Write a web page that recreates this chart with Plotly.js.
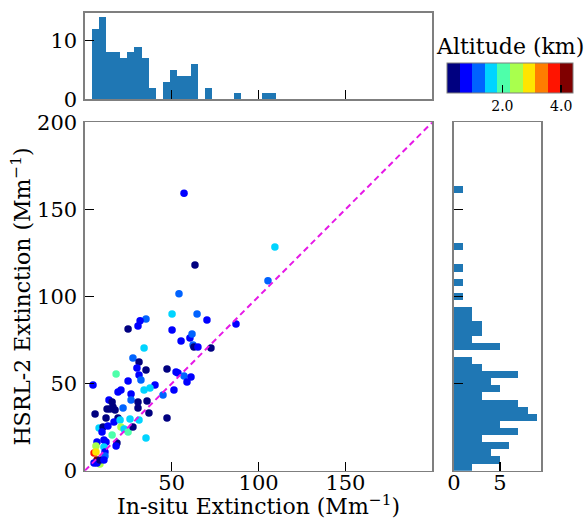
<!DOCTYPE html>
<html><head><meta charset="utf-8">
<script src="https://cdn.plot.ly/plotly-3.0.1.min.js"></script>
<style>html,body{margin:0;padding:0;background:#fff}#chart{width:585px;height:519px}</style>
</head><body><div id="chart"></div>
<script>
// In-situ extinction (Mm^-1)
const insitu = [57.1,109.4,63.4,105.4,54.2,87.0,50.2,64.6,70.3,50.2,55.4,60.5,61.7,62.3,62.8,65.1,72.6,47.3,52.5,53.6,57.1,61.1,58.8,40.4,51.3,45.0,47.3,35.2,31.8,30.6,24.9,34.1,27.7,31.2,30.0,35.2,18.0,31.2,24.9,32.3,4.7,37.5,20.8,34.1,19.1,26.6,13.9,15.7,26.6,30.6,35.8,12.8,14.5,16.2,17.4,22.0,30.6,36.9,5.9,12.2,19.1,16.8,20.3,26.0,31.2,8.2,10.5,13.3,9.9,15.7,20.8,22.6,24.9,27.7,35.2,7.0,11.0,12.2,18.5,18.0,11.0,6.4,11.6,11.6,5.3,6.4,7.0,5.3,8.7,7.0,8.7,11.0];
// HSRL-2 extinction (Mm^-1)
const hsrl = [159.3,128.4,118.1,109.1,101.6,84.2,89.9,89.9,86.5,80.8,74.5,76.2,78.5,72.2,71.0,71.0,70.4,58.4,56.7,56.1,54.4,53.8,50.9,49.2,46.3,43.5,30.3,87.1,86.0,83.1,81.4,70.4,64.7,62.4,59.0,57.8,55.5,54.9,51.5,52.1,49.2,47.5,46.3,46.3,45.2,44.0,40.6,39.4,40.6,39.4,40.0,35.4,35.4,36.6,34.8,36.0,36.0,33.1,32.5,30.3,30.3,27.9,29.1,29.7,29.1,24.5,25.1,25.7,22.2,20.5,25.1,23.9,22.2,25.1,18.8,16.5,17.6,16.5,15.9,14.2,13.6,14.2,10.7,8.4,10.2,10.7,6.1,4.4,3.8,4.4,6.1,6.1];
// Altitude (km)
const altitude = [0.75,1.61,0.32,1.18,1.18,0.75,1.61,1.18,0.75,0.75,0.75,0.75,1.18,1.18,0.32,0.75,0.32,0.32,0.75,0.75,1.18,0.75,0.75,0.75,0.75,1.18,0.32,1.18,0.75,0.75,0.32,1.61,1.18,0.32,0.75,0.32,2.03,0.75,0.75,1.18,0.75,1.61,0.75,1.61,0.75,0.75,0.75,0.32,1.18,0.32,0.32,0.32,0.32,0.32,0.32,1.18,0.32,0.32,0.32,0.32,0.32,0.75,1.61,1.61,1.61,1.61,0.32,0.75,0.75,2.03,2.46,1.61,2.03,0.32,1.61,0.75,0.75,0.75,0.32,0.75,1.61,2.46,0.75,1.18,3.75,2.89,4.18,0.75,2.46,0.75,0.32,0.75];
// Histogram counts (bin width 200/49, starting at 0)
const binWidth = 200/49;
const insituCounts = [0,12,14,8,8,7,8,9,7,2,0,3,5,4,4,6,0,2,0,0,0,1,0,0,0,1,1];
const hsrlCounts = [2,5,4,6,3,7,5,9,8,7,3,5,4,7,3,2,0,5,2,3,3,2,2,0,1,0,1,0,1,0,0,1,0,0,0,0,0,0,0,1];
const oneToOne = [0,200];
const axisTicks = [0,50,100,150,200];
const mainXTickText = ['','50','100','150',''];
const mainYTickText = ['0','50','100','150','200'];

const jet10 = ['#000080','#0000ff','#0063ff','#00d4ff','#4effaa','#a9ff4d','#ffe500','#ff7d00','#ff1400','#800000'];
const cs = [];
jet10.forEach((c,i)=>{cs.push([i/10,c]);cs.push([(i+1)/10,c]);});

const F = 'DejaVu Serif, serif';
const frame = {showline:true, mirror:true, linecolor:'#7f7f7f', linewidth:1.5, showgrid:false, zeroline:false,
  tickcolor:'#000', tickwidth:1.5, ticklen:9, tickfont:{family:F,size:21,color:'#000'}};

const traces = [
 {type:'scatter', mode:'markers', x:insitu, y:hsrl, xaxis:'x', yaxis:'y',
  marker:{size:7.5, color:altitude, colorscale:cs, cmin:0.11, cmax:4.39,
   colorbar:{orientation:'h', x:0.8713, xanchor:'center', y:0.878, yanchor:'top', len:0.2154, lenmode:'fraction',
     thickness:30, xpad:0, ypad:0, outlinecolor:'#7f7f7f', outlinewidth:1,
     tickvals:[2,4], ticktext:['2.0','4.0'], ticks:'inside', ticklen:8, tickcolor:'#000', tickwidth:1.5,
     tickfont:{family:F,size:14,color:'#000'}}},
  showlegend:false},
 {type:'scatter', mode:'lines', x:oneToOne, y:oneToOne, xaxis:'x', yaxis:'y',
  line:{color:'#e619e6', width:2, dash:'6px,4px'}, showlegend:false},
 {type:'bar', x0:binWidth/2, dx:binWidth, y:insituCounts, xaxis:'x2', yaxis:'y2',
  marker:{color:'#1f77b4', line:{width:0}}, showlegend:false},
 {type:'bar', orientation:'h', y0:binWidth/2, dy:binWidth, x:hsrlCounts, xaxis:'x3', yaxis:'y3',
  marker:{color:'#1f77b4', line:{width:0}}, showlegend:false}
];

const mainX=[0.145,0.739], mainY=[0.0931,0.7644];
const layout = {
 width:585, height:519, margin:{l:0,r:0,t:0,b:0}, paper_bgcolor:'#fff', plot_bgcolor:'#fff',
 bargap:0, showlegend:false,
 xaxis:Object.assign({}, frame, {domain:mainX, range:[0,200], anchor:'y', ticks:'inside', tickvals:axisTicks, ticktext:mainXTickText,
   ticklabelstandoff:-7,
   title:{text:'In-situ Extinction (Mm<sup>−1</sup>)', font:{family:F,size:22,color:'#000'}, standoff:0}}),
 yaxis:Object.assign({}, frame, {domain:mainY, range:[0,200], anchor:'x', ticks:'inside', tickvals:axisTicks, ticktext:mainYTickText,
   ticklabelstandoff:2,
   title:{text:'HSRL-2 Extinction (Mm<sup>−1</sup>)', font:{family:F,size:22,color:'#000'}, standoff:0}}),
 yaxis4:Object.assign({}, frame, {domain:mainY, range:[0,200], anchor:'x', overlaying:'y', showline:false, ticks:'outside', ticklen:8,
   tickvals:axisTicks, showticklabels:false}),
 xaxis2:Object.assign({}, frame, {domain:mainX, range:[0,200], anchor:'y2', ticks:'inside', tickvals:axisTicks, showticklabels:false}),
 yaxis2:Object.assign({}, frame, {domain:[0.8087,0.9755], range:[0,14.78], anchor:'x2', ticks:'inside', tickvals:[0,10], ticklabelstandoff:2}),
 yaxis5:Object.assign({}, frame, {domain:[0.8087,0.9755], range:[0,14.78], anchor:'x2', overlaying:'y2', showline:false, ticks:'outside', ticklen:8,
   tickvals:[0,10], showticklabels:false}),
 xaxis3:Object.assign({}, frame, {domain:[0.776,0.925], range:[0,9.46], anchor:'y3', ticks:'inside', tickvals:[0,5], ticklabelstandoff:-7}),
 yaxis3:Object.assign({}, frame, {domain:mainY, range:[0,200], anchor:'x3', ticks:'inside', tickvals:axisTicks, showticklabels:false}),
 annotations:[{text:'Altitude (km)', xref:'paper', yref:'paper', x:0.8713, y:0.911, xanchor:'center', yanchor:'middle',
   showarrow:false, font:{family:F,size:22,color:'#000'}}]
};
Plotly.newPlot('chart', traces, layout, {staticPlot:true, displayModeBar:false});
</script></body></html>
